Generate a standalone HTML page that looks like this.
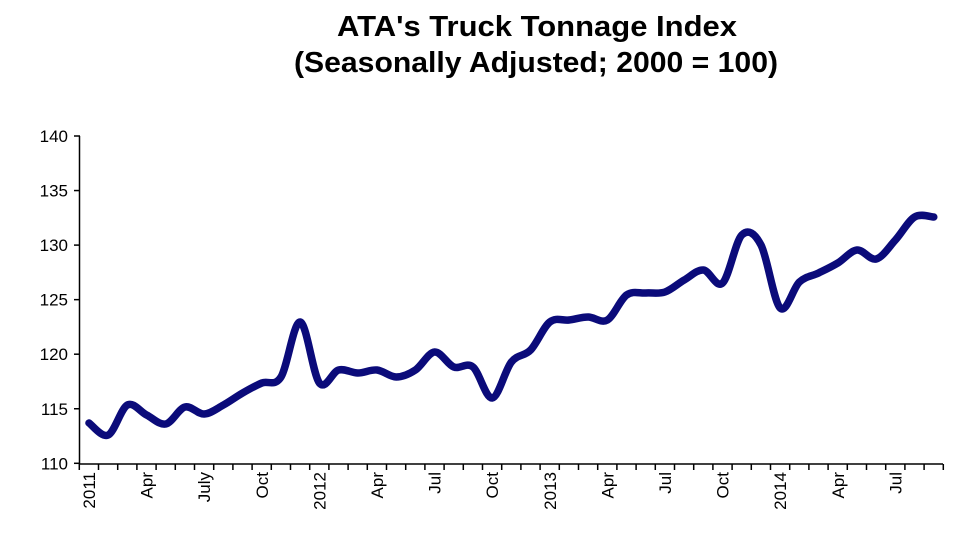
<!DOCTYPE html>
<html><head><meta charset="utf-8"><style>
html,body{margin:0;padding:0;background:#fff;width:980px;height:552px;overflow:hidden}
svg{display:block}
text{font-family:"Liberation Sans",Arial,sans-serif;fill:#000}
</style></head><body>
<svg width="980" height="552" viewBox="0 0 980 552">
<text x="537" y="36" text-anchor="middle" font-size="29" font-weight="bold" textLength="400" lengthAdjust="spacingAndGlyphs">ATA's  Truck Tonnage Index</text>
<text x="536" y="72" text-anchor="middle" font-size="29" font-weight="bold" textLength="484" lengthAdjust="spacingAndGlyphs">(Seasonally Adjusted; 2000 = 100)</text>
<g stroke="#000" stroke-width="1.5" fill="none">
<line x1="79.5" y1="136" x2="79.5" y2="464"/>
<line x1="79.5" y1="464" x2="943" y2="464"/>
</g>
<g id="yt" stroke="#000" stroke-width="1.5"></g>
<g id="xt" stroke="#000" stroke-width="1.5"></g>
<g id="yl" font-size="17" text-anchor="end"></g>
<g id="xl" font-size="17"></g>
<path id="ln" fill="none" stroke="#0b0b7a" stroke-width="7.5" stroke-linejoin="round" stroke-linecap="round"/>
</svg>
<script>
var ns="http://www.w3.org/2000/svg";
function el(p,t,a,txt){var e=document.createElementNS(ns,t);for(var k in a)e.setAttribute(k,a[k]);if(txt)e.textContent=txt;document.getElementById(p).appendChild(e);}
for(var v=110;v<=140;v+=5){var y=463.3-(v-110)*10.91;el("yt","line",{x1:74,y1:y,x2:80,y2:y});el("yl","text",{x:68,y:y+6},String(v));}
for(var i=0;i<=45;i++){var x=79.3+19.2*i;el("xt","line",{x1:x,y1:464,x2:x,y2:470});}
var labs={0:"2011",3:"Apr",6:"July",9:"Oct",12:"2012",15:"Apr",18:"Jul",21:"Oct",24:"2013",27:"Apr",30:"Jul",33:"Oct",36:"2014",39:"Apr",42:"Jul"};
for(var k in labs){var x=89+19.2*k+6;el("xl","text",{x:0,y:0,"text-anchor":"end",transform:"translate("+x+",472) rotate(-90)"},labs[k]);}
var ys=[423,435,405,415,424,407,414,405,393,383,377,322,383,370,373,370,377,370,352,367,367,398,362,350,322,320,317,320,295,293,292,280,270,283,235,245,308,282,273,263,250,259,240,217,217];
var p=ys.map(function(y,i){return [89+19.2*i,y];});
var d="M"+p[0][0]+","+p[0][1];
for(var i=0;i<p.length-1;i++){var p0=p[i-1]||p[i],p1=p[i],p2=p[i+1],p3=p[i+2]||p2;var t=0.5/3;
d+=" C"+(p1[0]+(p2[0]-p0[0])*t)+","+(p1[1]+(p2[1]-p0[1])*t)+" "+(p2[0]-(p3[0]-p1[0])*t)+","+(p2[1]-(p3[1]-p1[1])*t)+" "+p2[0]+","+p2[1];}
document.getElementById("ln").setAttribute("d",d);
</script>
</body></html>
